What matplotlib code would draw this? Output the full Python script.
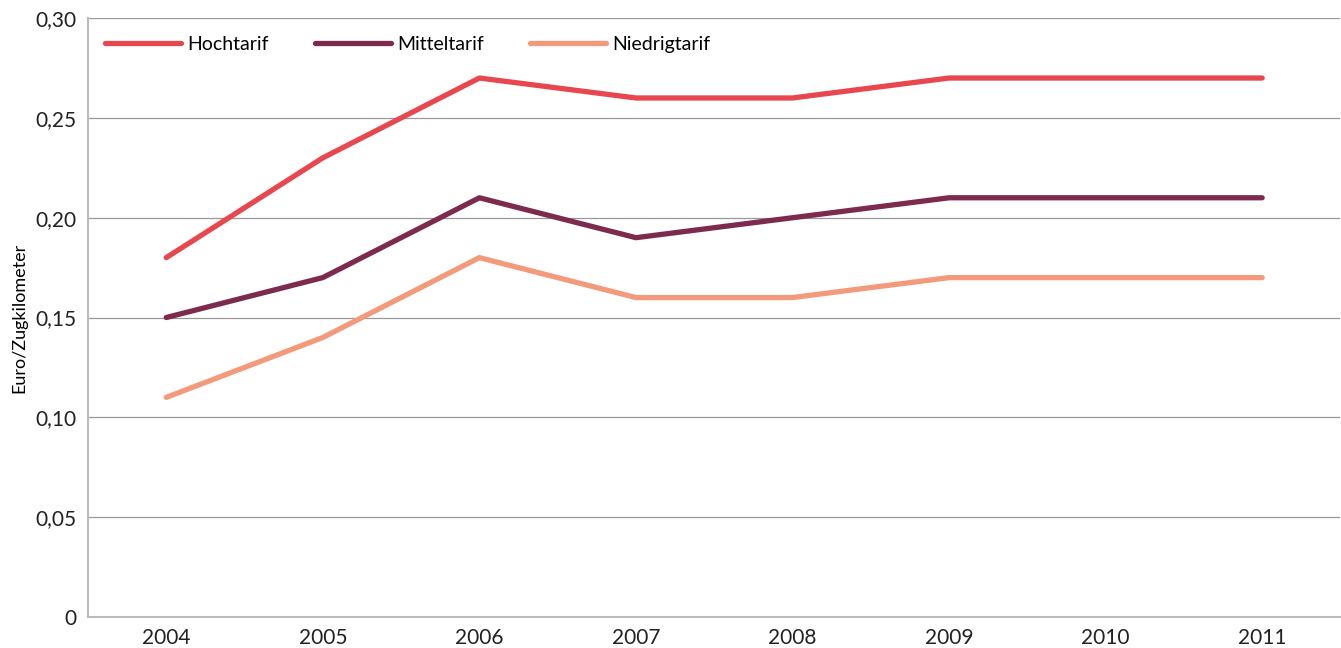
import matplotlib
matplotlib.use('Agg')
import matplotlib.pyplot as plt
from matplotlib.ticker import FuncFormatter

plt.rcParams['font.family'] = ['Lato', 'DejaVu Sans']

# Daten
jahre = ['2004', '2005', '2006', '2007', '2008', '2009', '2010', '2011']
hochtarif = [0.18, 0.23, 0.27, 0.26, 0.26, 0.27, 0.27, 0.27]
mitteltarif = [0.15, 0.17, 0.21, 0.19, 0.20, 0.21, 0.21, 0.21]
niedrigtarif = [0.11, 0.14, 0.18, 0.16, 0.16, 0.17, 0.17, 0.17]

fig = plt.figure(figsize=(13.41, 6.48), dpi=100)
ax = fig.add_axes([0.0656, 0.048, 0.934, 0.924])

x = range(len(jahre))
ax.plot(x, hochtarif, color='#e8474f', lw=3.8, label='Hochtarif', solid_capstyle='round')
ax.plot(x, mitteltarif, color='#7d2a4f', lw=3.8, label='Mitteltarif', solid_capstyle='round')
ax.plot(x, niedrigtarif, color='#f29a7a', lw=3.8, label='Niedrigtarif', solid_capstyle='round')

ax.set_xlim(-0.5, 7.5)
ax.set_ylim(0, 0.30)
ax.set_xticks(list(x))
ax.set_xticklabels(jahre)
ax.set_yticks([0, 0.05, 0.10, 0.15, 0.20, 0.25, 0.30])
ax.yaxis.set_major_formatter(FuncFormatter(lambda v, p: '0' if v == 0 else ('%.2f' % v).replace('.', ',')))
ax.tick_params(length=0, labelsize=15, colors='#222222', pad=8)
ax.grid(axis='y', color='#999999', lw=0.9)
ax.set_axisbelow(True)

for s in ['top', 'right']:
    ax.spines[s].set_visible(False)
ax.spines['left'].set_color('#bbbbbb')
ax.spines['bottom'].set_color('#bbbbbb')
ax.spines['left'].set_linewidth(1.5)
ax.spines['bottom'].set_linewidth(1.5)

ax.set_ylabel('Euro/Zugkilometer', fontsize=13, labelpad=6)

ax.legend(loc='upper left', ncol=3, frameon=False, fontsize=14, handlelength=3.9,
          handletextpad=0.3, columnspacing=2.4, bbox_to_anchor=(0.0, 1.0))

fig.savefig('out.png', dpi=100)
